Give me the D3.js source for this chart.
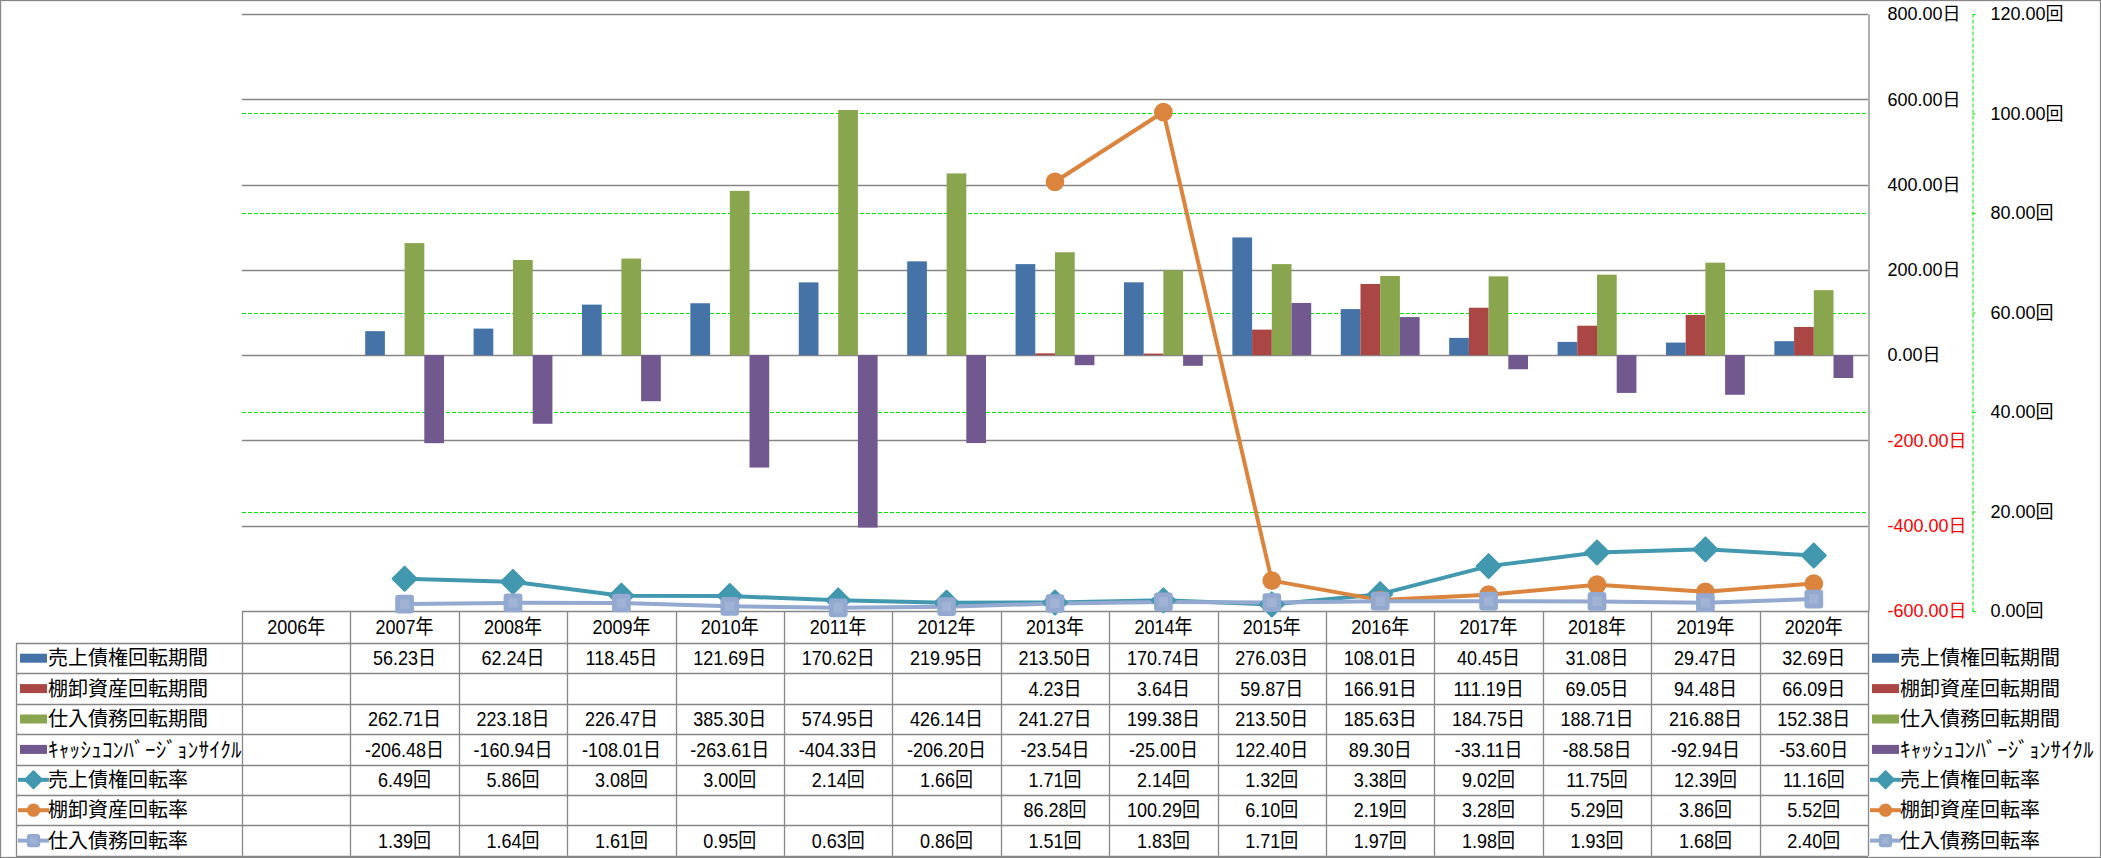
<!DOCTYPE html>
<html><head><meta charset="utf-8">
<script src="https://cdn.jsdelivr.net/npm/d3@7"></script>
<style>html,body{margin:0;padding:0;background:#fff;} svg{display:block;}</style>
</head><body>
<svg id="chart" width="2101" height="858"></svg>
<script>
// ---------- data ----------
const categories = ["2006年","2007年","2008年","2009年","2010年","2011年","2012年","2013年","2014年","2015年","2016年","2017年","2018年","2019年","2020年"];
const salesDays     = [null,56.23,62.24,118.45,121.69,170.62,219.95,213.50,170.74,276.03,108.01,40.45,31.08,29.47,32.69];
const inventoryDays = [null,null,null,null,null,null,null,4.23,3.64,59.87,166.91,111.19,69.05,94.48,66.09];
const payableDays   = [null,262.71,223.18,226.47,385.30,574.95,426.14,241.27,199.38,213.50,185.63,184.75,188.71,216.88,152.38];
const cccDays       = [null,-206.48,-160.94,-108.01,-263.61,-404.33,-206.20,-23.54,-25.00,122.40,89.30,-33.11,-88.58,-92.94,-53.60];
const salesTurnover     = [null,6.49,5.86,3.08,3.00,2.14,1.66,1.71,2.14,1.32,3.38,9.02,11.75,12.39,11.16];
const inventoryTurnover = [null,null,null,null,null,null,null,86.28,100.29,6.10,2.19,3.28,5.29,3.86,5.52];
const payableTurnover   = [null,1.39,1.64,1.61,0.95,0.63,0.86,1.51,1.83,1.71,1.97,1.98,1.93,1.68,2.40];
const dayTicks  = [-600,-400,-200,0,200,400,600,800];
const turnTicks = [0,20,40,60,80,100,120];
const barNames  = ["売上債権回転期間","棚卸資産回転期間","仕入債務回転期間","ｷｬｯｼｭｺﾝﾊﾞｰｼﾞｮﾝｻｲｸﾙ"];
const lineNames = ["売上債権回転率","棚卸資産回転率","仕入債務回転率"];
const dayUnit = "日", turnUnit = "回";

// ---------- styles ----------
const barColors  = ["#4572A7","#AA4643","#89A54E","#71588F"];
const lineColors = ["#4198AF","#DB843D","#93A9CF"];
const shapes = ["diamond","circle","square"];
const gridGray = "#868686";
const numFont = "'Liberation Sans', 'Noto Sans CJK JP', sans-serif";
const jpFont = "'Noto Sans CJK JP', sans-serif";

const barSeries = [salesDays, inventoryDays, payableDays, cccDays];
const lineSeries = [salesTurnover, inventoryTurnover, payableTurnover];

const L = 242, R = 1868, T = 14, B = 611;
const tableTop = 611, headerH = 32, rowH = 30.4, legendLeft = 16;
const rowsTop = tableTop + headerH;
const nRows = barNames.length + lineNames.length;
const tableBottom = rowsTop + nRows * rowH;

const svg = d3.select("#chart");
svg.append("rect").attr("width", 2101).attr("height", 858).attr("fill", "#fff");

const x = d3.scaleBand().domain(categories).range([L, R]).paddingInner(0).paddingOuter(0);
const xs = d3.scaleBand().domain(d3.range(4)).range([0, x.bandwidth()]).paddingInner(0).paddingOuter(0.75);
const y1 = d3.scaleLinear().domain([-600, 800]).range([B, T]);
const y2 = d3.scaleLinear().domain([0, 120]).range([B, T]);

// primary gridlines
svg.append("g").selectAll("line").data(dayTicks).join("line")
  .attr("x1", L).attr("x2", R)
  .attr("y1", d => Math.round(y1(d)) + 0.5).attr("y2", d => Math.round(y1(d)) + 0.5)
  .attr("stroke", gridGray).attr("stroke-width", 1.3);

// secondary gridlines (green dashed)
svg.append("g").selectAll("line").data(turnTicks.filter(d => d > 0 && d < 120)).join("line")
  .attr("x1", L).attr("x2", R)
  .attr("y1", d => Math.round(y2(d)) + 0.5).attr("y2", d => Math.round(y2(d)) + 0.5)
  .attr("stroke", "#00E800").attr("stroke-width", 1).attr("stroke-dasharray", "4,2");

// bars
const barG = svg.append("g");
barSeries.forEach((vals, s) => {
  barG.append("g").selectAll("rect")
    .data(vals.map((v, i) => ({ v, c: categories[i] })).filter(d => d.v != null))
    .join("rect")
    .attr("x", d => x(d.c) + xs(s))
    .attr("width", xs.bandwidth())
    .attr("y", d => Math.min(y1(d.v), y1(0)))
    .attr("height", d => Math.abs(y1(d.v) - y1(0)))
    .attr("fill", barColors[s]);
});

// primary axis (right side of plot)
const ax1 = svg.append("g").attr("transform", `translate(${R + 0.5},0)`)
  .call(d3.axisRight(y1).tickValues(dayTicks).tickSize(0).tickSizeOuter(0).tickPadding(19)
    .tickFormat(d => d.toFixed(2) + dayUnit));
ax1.select(".domain").attr("stroke", gridGray).attr("stroke-width", 1.3);
ax1.selectAll("text").attr("font-family", numFont).attr("font-size", 18)
  .attr("fill", d => d < 0 ? "#FF0000" : "#000").attr("text-anchor", "start");

// secondary axis (green dashed)
const ax2 = svg.append("g").attr("transform", `translate(1972.5,0)`)
  .call(d3.axisRight(y2).tickValues(turnTicks).tickSize(3).tickSizeOuter(0).tickPadding(15)
    .tickFormat(d => d.toFixed(2) + turnUnit));
ax2.select(".domain").attr("stroke", "#00E800").attr("stroke-dasharray", "4,2");
ax2.selectAll(".tick line").attr("stroke", "#00E800");
ax2.selectAll("text").attr("font-family", numFont).attr("font-size", 18).attr("fill", "#000");

// marker helper
function marker(g, shape, color, size) {
  if (shape === "diamond") {
    g.append("path").attr("d", `M0,${-size} L${size},0 L0,${size} L${-size},0Z`)
      .attr("fill", color).attr("stroke", color).attr("stroke-width", 2).attr("stroke-linejoin", "round");
  } else if (shape === "circle") {
    g.append("circle").attr("r", size * 0.78).attr("fill", color);
  } else {
    const s = size * 0.78;
    g.append("rect").attr("x", -s).attr("y", -s).attr("width", 2 * s).attr("height", 2 * s)
      .attr("rx", 3).attr("fill", color);
    g.append("rect").attr("x", -s * 0.5).attr("y", -s * 0.5).attr("width", s).attr("height", s)
      .attr("fill", "#fff").attr("opacity", 0.12);
  }
}

// lines
const lineG = svg.append("g");
lineSeries.forEach((vals, s) => {
  const pts = vals.map((v, i) => ({ v, c: categories[i] }));
  const gen = d3.line().defined(d => d.v != null)
    .x(d => x(d.c) + x.bandwidth() / 2).y(d => y2(d.v));
  lineG.append("path").datum(pts).attr("d", gen)
    .attr("fill", "none").attr("stroke", lineColors[s]).attr("stroke-width", 4)
    .attr("stroke-linejoin", "round");
});
lineSeries.forEach((vals, s) => {
  vals.forEach((v, i) => {
    if (v == null) return;
    const g = lineG.append("g").attr("transform", `translate(${x(categories[i]) + x.bandwidth() / 2},${y2(v)})`);
    marker(g, shapes[s], lineColors[s], 12);
  });
});

// ---------- data table ----------
const tbl = svg.append("g");
const lineStyle = sel => sel.attr("stroke", gridGray).attr("stroke-width", 1.3);
x.domain().forEach(c => {
  tbl.append("line").attr("x1", Math.round(x(c)) + 0.5).attr("x2", Math.round(x(c)) + 0.5)
    .attr("y1", tableTop).attr("y2", tableBottom).call(lineStyle);
});
tbl.append("line").attr("x1", R + 0.5).attr("x2", R + 0.5).attr("y1", tableTop).attr("y2", tableBottom).call(lineStyle);
tbl.append("line").attr("x1", legendLeft + 0.5).attr("x2", legendLeft + 0.5).attr("y1", rowsTop).attr("y2", tableBottom).call(lineStyle);
for (let r = 0; r <= nRows; r++) {
  const yy = Math.round(rowsTop + r * rowH) + 0.5;
  tbl.append("line").attr("x1", legendLeft).attr("x2", R).attr("y1", yy).attr("y2", yy).call(lineStyle);
}
// header labels
tbl.append("g").selectAll("text").data(categories).join("text")
  .attr("transform", d => `translate(${x(d) + x.bandwidth() / 2},${tableTop + headerH / 2}) scale(0.9,1)`)
  .attr("text-anchor", "middle").attr("dy", "0.36em")
  .attr("font-family", numFont).attr("font-size", 20).attr("fill", "#000").text(d => d);

const allRows = [
  ...barSeries.map((vals, s) => ({ vals, name: barNames[s], unit: dayUnit, kind: "bar", color: barColors[s] })),
  ...lineSeries.map((vals, s) => ({ vals, name: lineNames[s], unit: turnUnit, kind: "line", color: lineColors[s], shape: shapes[s] }))
];
function legendKey(g, row, x0) {
  if (row.kind === "bar") {
    g.append("rect").attr("x", x0).attr("y", -4.5).attr("width", 27).attr("height", 9).attr("fill", row.color);
  } else {
    g.append("line").attr("x1", x0 - 2).attr("x2", x0 + 29).attr("y1", 0).attr("y2", 0)
      .attr("stroke", row.color).attr("stroke-width", 4);
    const m = g.append("g").attr("transform", `translate(${x0 + 13.5},0)`);
    marker(m, row.shape, row.color, 8.5);
  }
}
function legendText(g, row, x0) {
  const half = /[\uFF61-\uFF9F]/.test(row.name);
  g.append("text").attr("x", x0).attr("dy", "0.35em").attr("font-family", jpFont)
    .attr("font-size", half ? 21 : 20).attr("letter-spacing", half ? 0.3 : 0)
    .attr("fill", "#000").text(row.name);
}
allRows.forEach((row, r) => {
  const cy = rowsTop + r * rowH + rowH / 2;
  const lg = tbl.append("g").attr("transform", `translate(0,${cy})`);
  legendKey(lg, row, 20);
  legendText(lg, row, 48);
  row.vals.forEach((v, i) => {
    if (v == null) return;
    tbl.append("text")
      .attr("transform", `translate(${x(categories[i]) + x.bandwidth() / 2},${cy}) scale(0.9,1)`)
      .attr("text-anchor", "middle").attr("dy", "0.36em")
      .attr("font-family", numFont).attr("font-size", 20).attr("fill", "#000")
      .text(v.toFixed(2) + row.unit);
  });
  const rg = svg.append("g").attr("transform", `translate(0,${cy})`);
  legendKey(rg, row, 1872);
  legendText(rg, row, 1900);
});

// outer border
svg.append("rect").attr("x", 0.5).attr("y", 0.5).attr("width", 2100).attr("height", 857)
  .attr("fill", "none").attr("stroke", gridGray).attr("stroke-width", 1.3);
</script>
</body></html>
